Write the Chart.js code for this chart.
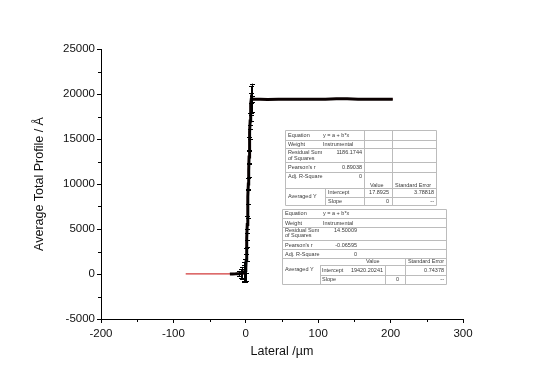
<!DOCTYPE html>
<html>
<head>
<meta charset="utf-8">
<script src="https://cdn.jsdelivr.net/npm/chart.js@4.4.0/dist/chart.umd.min.js"></script>
<style>
  html, body { margin: 0; padding: 0; background: #ffffff; }
  #wrap { position: relative; width: 538px; height: 376px; }
  canvas { display: block; }
</style>
</head>
<body>
<div id="wrap"><canvas id="c" width="538" height="376"></canvas></div>
<script>
// ---- data ----
const xTicks = [-200, -100, 0, 100, 200, 300];
const yTicks = [-5000, 0, 5000, 10000, 15000, 20000, 25000];

// measured profile (black, with error bars)
const profX = [-22, -18, -14, -10, -7, -5, -3, -2, -1, 0, 0.5, 1, 1.5, 2, 2.5, 3, 3.5, 4, 4.5, 5, 5.5, 6, 6.5, 7, 7.5, 8, 9, 12, 20, 30, 45, 60, 75, 90, 100, 110, 125, 140, 155, 170, 185, 203];
const profY = [0, 10, 20, 40, 60, 90, 150, 250, 400, 700, 1500, 2600, 4000, 5500, 7000, 8600, 10000, 11500, 13000, 14500, 15800, 17000, 18000, 18900, 19400, 19550, 19460, 19420, 19420, 19400, 19410, 19430, 19420, 19420, 19430, 19420, 19480, 19470, 19420, 19410, 19420, 19420];
const profErr = [0, 0, 0, 300, 500, 700, 900, 1100, 1300, 1500, 1400, 1200, 1000, 900, 800, 800, 700, 700, 700, 700, 800, 900, 1000, 1200, 1500, 1600, 300, 0, 0, 0, 0, 0, 0, 0, 0, 0, 0, 0, 0, 0, 0, 0];

// linear fits (red)
const fitLowX = [-83, 0];
const fitLowY = [17.8925, 17.8925];
const fitHighX = [8, 203];
const fitHighY = [19420.20241, 19420.20241];

// fit report tables
const table1Rows = [
  ["Equation", "y = a + b*x"],
  ["Weight", "Instrumental"],
  ["Residual Sum", "1186.1744"],
  ["Pearson's r", "0.89038"],
  ["Adj. R-Square", "0"]
];
const table1Params = [
  ["Intercept", "17.8925", "3.78818"],
  ["Slope", "0", "--"]
];
const table2Rows = [
  ["Equation", "y = a + b*x"],
  ["Weight", "Instrumental"],
  ["Residual Sum", "14.50009"],
  ["Pearson's r", "-0.06595"],
  ["Adj. R-Square", "0"]
];
const table2Params = [
  ["Intercept", "19420.20241", "0.74378"],
  ["Slope", "0", "--"]
];

const toPts = (xs, ys) => xs.map((x, i) => ({x: x, y: ys[i]}));

// ---- plugins ----
const errorBars = {
  id: 'errorBars',
  afterDatasetsDraw(chart) {
    const ctx = chart.ctx, xs = chart.scales.x, ys = chart.scales.y;
    ctx.save();
    ctx.strokeStyle = '#000';
    ctx.lineWidth = 1;
    profX.forEach((x, i) => {
      const e = profErr[i];
      if (!e) return;
      const px = Math.round(xs.getPixelForValue(x)) + 0.5;
      const y1 = ys.getPixelForValue(profY[i] + e);
      const y2 = ys.getPixelForValue(profY[i] - e);
      ctx.beginPath();
      ctx.moveTo(px, y1); ctx.lineTo(px, y2);
      ctx.moveTo(px - 2.5, Math.round(y1) + 0.5); ctx.lineTo(px + 2.5, Math.round(y1) + 0.5);
      ctx.moveTo(px - 2.5, Math.round(y2) + 0.5); ctx.lineTo(px + 2.5, Math.round(y2) + 0.5);
      ctx.stroke();
    });
    ctx.restore();
  }
};

const minorTicks = {
  id: 'minorTicks',
  afterDraw(chart) {
    const ctx = chart.ctx, xs = chart.scales.x, ys = chart.scales.y, a = chart.chartArea;
    ctx.save();
    ctx.strokeStyle = '#000';
    ctx.lineWidth = 1;
    ctx.beginPath();
    for (let i = 0; i < xTicks.length - 1; i++) {
      const v = (xTicks[i] + xTicks[i + 1]) / 2;
      const px = Math.round(xs.getPixelForValue(v)) + 0.5;
      ctx.moveTo(px, a.bottom); ctx.lineTo(px, a.bottom + 3);
    }
    for (let i = 0; i < yTicks.length - 1; i++) {
      const v = (yTicks[i] + yTicks[i + 1]) / 2;
      const py = Math.round(ys.getPixelForValue(v)) + 0.5;
      ctx.moveTo(a.left, py); ctx.lineTo(a.left - 3, py);
    }
    ctx.stroke();
    ctx.restore();
  }
};

function drawTable(ctx, o) {
  ctx.save();
  ctx.fillStyle = '#ffffff';
  ctx.fillRect(o.left, o.top, o.right - o.left, o.bottom - o.top);
  ctx.strokeStyle = '#bcbcbc';
  ctx.lineWidth = 1;
  ctx.beginPath();
  ctx.rect(o.left + 0.5, o.top + 0.5, o.right - o.left, o.bottom - o.top);
  o.hLines.forEach(l => { ctx.moveTo(l[0], l[2] + 0.5); ctx.lineTo(l[1], l[2] + 0.5); });
  o.vLines.forEach(l => { ctx.moveTo(l[0] + 0.5, l[1]); ctx.lineTo(l[0] + 0.5, l[2]); });
  ctx.stroke();
  ctx.fillStyle = '#3a3a3a';
  ctx.font = '5.5px Arial, "Liberation Sans", sans-serif';
  ctx.textBaseline = 'middle';
  o.texts.forEach(t => {
    ctx.textAlign = t[3] || 'left';
    ctx.fillText(t[0], t[1], t[2]);
  });
  ctx.restore();
}

const tables = {
  id: 'tables',
  afterDraw(chart) {
    const ctx = chart.ctx;
    // table 1 (baseline fit)
    const t1 = [];
    const r1y = [135, 144, 152, 167, 176];
    table1Rows.forEach((r, i) => {
      t1.push([r[0], 288, r1y[i]]);
      if (i === 0 || i === 1) t1.push([r[1], 323, r1y[i]]);
      else t1.push([r[1], 362, r1y[i], 'right']);
    });
    t1.push(["of Squares", 288, 158]);
    t1.push(["Value", 370, 185]);
    t1.push(["Standard Error", 395, 185]);
    t1.push(["Averaged Y", 288, 196]);
    const p1y = [192, 201];
    table1Params.forEach((p, i) => {
      t1.push([p[0], 328, p1y[i]]);
      t1.push([p[1], 389, p1y[i], 'right']);
      t1.push([p[2], 434, p1y[i], 'right']);
    });
    drawTable(ctx, {
      left: 285, top: 130, right: 436, bottom: 205,
      hLines: [[285, 436, 140], [285, 436, 148], [285, 436, 162], [285, 436, 172], [285, 436, 188], [325, 436, 197]],
      vLines: [[364, 130, 205], [392, 130, 205], [325, 188, 205]],
      texts: t1
    });
    // table 2 (top fit)
    const t2 = [];
    const r2y = [213, 223, 230, 245, 254];
    table2Rows.forEach((r, i) => {
      t2.push([r[0], 285, r2y[i]]);
      if (i === 0 || i === 1) t2.push([r[1], 323, r2y[i]]);
      else t2.push([r[1], 357, r2y[i], 'right']);
    });
    t2.push(["of Squares", 285, 235]);
    t2.push(["Value", 366, 261]);
    t2.push(["Standard Error", 444, 261, 'right']);
    t2.push(["Averaged Y", 285, 269]);
    const p2y = [270, 279];
    table2Params.forEach((p, i) => {
      t2.push([p[0], 322, p2y[i]]);
      t2.push([p[1], i === 0 ? 383 : 399, p2y[i], 'right']);
      t2.push([p[2], 444, p2y[i], 'right']);
    });
    drawTable(ctx, {
      left: 282, top: 209, right: 446, bottom: 284,
      hLines: [[282, 446, 218], [282, 446, 227], [282, 446, 240], [282, 446, 249], [282, 446, 258], [320, 446, 265], [320, 446, 275]],
      vLines: [[320, 265, 284], [385, 265, 284], [405, 258, 284]],
      texts: t2
    });
  }
};

const tickFont = { family: 'Arial, "Liberation Sans", sans-serif', size: 11.5 };
const titleFont = { family: 'Arial, "Liberation Sans", sans-serif', size: 12.5 };

new Chart(document.getElementById('c'), {
  type: 'line',
  data: {
    datasets: [
      {
        label: 'Profile',
        data: toPts(profX, profY),
        borderColor: '#0a0000',
        borderWidth: 3,
        pointRadius: 0,
        tension: 0,
        fill: false
      },
      {
        label: 'Fit baseline',
        data: toPts(fitLowX, fitLowY),
        borderColor: '#d23a3a',
        borderWidth: 1.3,
        pointRadius: 0,
        fill: false
      },
      {
        label: 'Fit top',
        data: toPts(fitHighX, fitHighY),
        borderColor: '#d23a3a',
        borderWidth: 1.3,
        pointRadius: 0,
        fill: false
      }
    ]
  },
  options: {
    responsive: false,
    animation: false,
    layout: { padding: { left: 0, top: 49, right: 75, bottom: 0 } },
    plugins: { legend: { display: false }, tooltip: { enabled: false } },
    scales: {
      x: {
        type: 'linear',
        min: -200, max: 300,
        afterBuildTicks: s => { s.ticks = xTicks.map(v => ({value: v})); },
        afterFit: s => { s.height = 57; },
        grid: { display: true, drawOnChartArea: false, drawTicks: true, tickLength: 4, color: '#000', tickColor: '#000' },
        border: { display: true, color: '#000', width: 1 },
        ticks: { font: tickFont, color: '#111', padding: 4, maxRotation: 0, callback: v => String(v) },
        title: { display: true, text: 'Lateral /µm', font: titleFont, color: '#111', padding: { top: 0, bottom: 16.5 } }
      },
      y: {
        type: 'linear',
        min: -5000, max: 25000,
        afterBuildTicks: s => { s.ticks = yTicks.map(v => ({value: v})); },
        afterFit: s => { s.width = 101; },
        grid: { display: true, drawOnChartArea: false, drawTicks: true, tickLength: 4, color: '#000', tickColor: '#000' },
        border: { display: true, color: '#000', width: 1 },
        ticks: { font: tickFont, color: '#111', padding: 2, callback: v => String(v) },
        title: { display: true, text: 'Average Total Profile / Å', font: titleFont, color: '#111', padding: { top: 32.5, bottom: 0 } }
      }
    }
  },
  plugins: [errorBars, minorTicks, tables]
});
</script>
</body>
</html>
